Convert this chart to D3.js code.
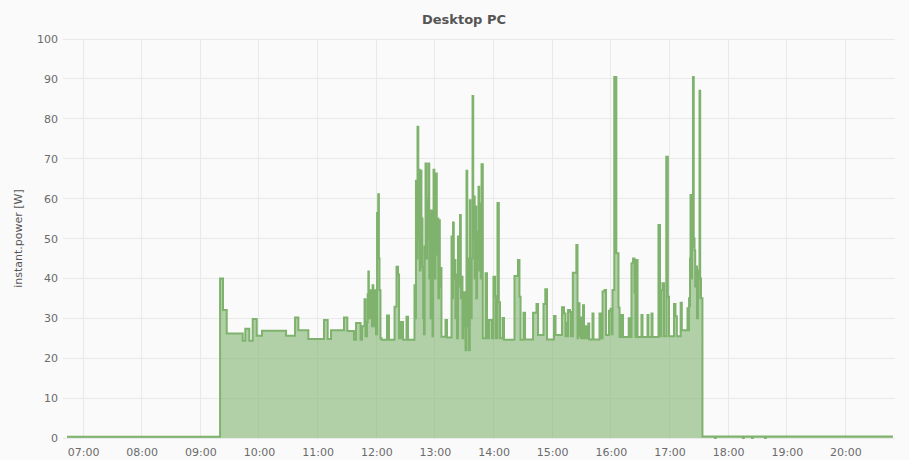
<!DOCTYPE html>
<html><head><meta charset="utf-8">
<script src="https://cdn.jsdelivr.net/npm/d3@7"></script>
<style>
body{margin:0;background:#fafafa;}
svg{display:block;font-family:"DejaVu Sans",sans-serif;}
</style>
</head><body>
<svg id="chart" width="909" height="460"></svg>
<script>
const title = "Desktop PC";
const yLabel = "instant.power [W]";
// minutes since midnight (step start) and instant power [W]
const times = [
403.6,560.2,563.2,567.0,583.4,586.0,590.1,593.6,597.7,603.1,
627.7,636.9,640.3,650.5,666.5,670.3,673.7,687.0,690.4,697.2,
699.3,703.9,705.4,708.0,709.0,710.5,711.2,711.9,712.4,712.9,
713.6,714.3,715.1,715.6,716.2,717.0,717.7,718.2,718.7,719.7,
720.8,722.0,722.7,723.3,724.3,725.4,731.0,733.0,738.7,740.7,
742.2,743.3,745.3,747.4,750.9,752.5,759.1,760.0,760.6,761.3,
762.2,763.0,763.7,764.5,765.3,766.2,767.3,768.0,768.8,769.5,
770.4,771.2,771.9,772.6,773.4,774.2,775.0,775.6,776.0,776.8,
777.5,778.0,778.6,779.4,780.1,780.6,781.1,781.9,782.7,783.5,
784.2,785.0,785.7,786.7,790.8,792.4,797.0,797.7,798.5,799.3,
800.1,801.0,801.6,802.6,803.6,804.5,805.7,806.5,807.2,808.2,
809.0,809.8,810.5,811.3,812.3,813.1,813.9,814.9,815.7,816.3,
816.9,817.6,818.5,819.2,820.0,820.7,821.5,822.3,823.1,823.8,
824.6,825.3,826.1,826.9,827.7,829.0,831.8,833.3,835.3,838.4,
839.9,841.5,842.5,844.0,845.4,846.6,849.2,850.7,861.4,865.0,
866.5,867.6,870.6,872.2,880.4,883.9,885.5,891.1,892.9,894.7,
901.8,903.4,910.0,912.1,913.6,914.6,915.6,916.2,918.2,919.2,
921.1,924.7,925.9,926.4,927.9,928.4,929.5,931.5,932.5,934.6,
935.6,936.9,937.9,941.2,942.2,948.4,950.4,951.5,953.5,955.0,
958.1,959.8,960.7,961.7,963.5,965.6,967.8,968.9,970.9,972.4,
978.3,979.6,981.1,982.7,984.2,985.2,986.0,987.3,991.3,992.4,
997.5,998.5,1001.6,1002.6,1008.7,1010.3,1011.6,1012.8,1014.4,1016.7,
1018.3,1019.5,1024.6,1026.1,1027.5,1031.4,1032.6,1038.4,1039.4,1040.0,
1040.4,1041.0,1041.5,1042.2,1043.0,1043.5,1044.0,1044.8,1045.6,1046.3,
1047.1,1048.1,1049.1,1049.8,1050.7,1051.4,1052.2,1053.7,1066.5,1067.3,
1095.2,1096.0,1104.4,1105.2,1117.7,1118.5,1248.6];
const power = [
0.3,40.0,32.1,26.2,24.4,27.4,24.4,29.8,25.6,26.9,
25.6,30.2,27.0,24.8,29.6,24.8,27.0,30.2,26.8,24.6,
28.8,24.6,28.0,34.8,25.5,29.0,36.0,41.7,30.0,33.0,
37.0,30.0,36.0,28.0,38.3,32.0,35.0,28.0,37.0,26.0,
56.4,61.1,45.0,37.0,25.0,24.6,30.7,24.6,32.9,42.9,
41.0,25.0,29.1,24.6,30.4,24.6,38.3,30.0,64.5,45.0,
78.0,50.0,67.2,42.0,67.0,55.0,43.0,30.0,26.0,48.0,
68.8,45.0,60.0,50.0,68.8,40.0,50.0,30.0,57.0,35.0,
25.5,45.0,67.2,42.0,40.0,55.0,66.3,46.0,55.0,35.0,
54.6,38.0,42.6,25.4,29.6,25.2,50.5,35.0,54.0,40.0,
44.6,30.0,41.0,25.0,50.5,38.0,55.9,35.0,40.4,25.0,
30.0,36.5,28.0,22.0,67.0,45.0,28.0,22.0,59.6,40.0,
30.0,45.0,85.7,50.0,60.5,40.0,58.0,35.0,51.7,45.0,
63.0,42.0,58.8,40.0,68.6,25.0,41.3,25.0,29.6,25.0,
40.4,35.5,25.0,58.9,34.0,25.0,30.1,24.6,40.6,44.6,
35.4,24.6,31.4,24.7,31.4,33.6,25.8,33.6,37.3,24.7,
30.6,25.8,32.8,31.2,25.5,28.9,25.5,32.1,31.6,25.5,
41.4,48.4,25.0,33.8,25.5,30.2,25.0,33.3,25.0,28.0,
25.0,28.7,24.7,31.2,24.7,31.2,25.0,36.7,37.1,25.8,
31.9,32.4,26.0,37.1,90.5,46.3,32.7,25.3,30.8,25.3,
30.0,25.3,43.8,45.0,36.4,25.3,44.6,25.3,30.8,25.3,
30.8,25.3,31.2,25.3,53.4,25.5,37.0,38.8,25.5,70.5,
35.4,25.5,33.6,30.5,25.5,33.9,27.0,32.5,27.0,35.0,
33.0,45.0,60.9,40.0,48.0,58.0,90.5,50.0,47.0,38.0,
43.0,30.0,35.0,42.0,87.0,40.0,35.0,0.4,0.0,0.4,
0.0,0.4,0.0,0.4,0.0,0.4,0.4];
const yTicks = [0,10,20,30,40,50,60,70,80,90,100];
const xDomainMinutes = [399.5, 1250.7];

const toDate = m => new Date(2021, 0, 1, 0, 0, 0, Math.round(m * 60000));
const data = times.map((t, i) => ({t: toDate(t), v: power[i]}));

const svg = d3.select("#chart");
const W = 909, H = 460;
const m = {left: 63, right: W - 895, top: 39, bottom: H - 438};

svg.append("rect").attr("width", W).attr("height", H).attr("fill", "#fafafa");

const x = d3.scaleTime().domain(xDomainMinutes.map(toDate)).range([m.left, W - m.right]);
const y = d3.scaleLinear().domain([0, 100]).range([H - m.bottom, m.top]);

// grid
const hourTicks = x.ticks(d3.timeHour.every(1));
svg.append("g").selectAll("line").data(yTicks).join("line")
  .attr("x1", m.left).attr("x2", W - m.right)
  .attr("y1", d => y(d)).attr("y2", d => y(d))
  .attr("stroke", "#e9e9e9").attr("stroke-width", 1).attr("shape-rendering", "crispEdges");
svg.append("g").selectAll("line").data(hourTicks).join("line")
  .attr("x1", d => x(d)).attr("x2", d => x(d))
  .attr("y1", m.top).attr("y2", H - m.bottom)
  .attr("stroke", "#e9e9e9").attr("stroke-width", 1).attr("shape-rendering", "crispEdges");

// area + line
const area = d3.area().curve(d3.curveStepAfter)
  .x(d => x(d.t)).y0(y(0)).y1(d => y(d.v));
const line = d3.line().curve(d3.curveStepAfter)
  .x(d => x(d.t)).y(d => y(d.v));

svg.append("path").datum(data).attr("d", area)
  .attr("fill", "#7eb26d").attr("fill-opacity", 0.58);
svg.append("path").datum(data).attr("d", line)
  .attr("fill", "none").attr("stroke", "#7eb26d").attr("stroke-width", 2)
  .attr("stroke-linejoin", "miter");

// axes (labels only)
const xAxis = d3.axisBottom(x).ticks(d3.timeHour.every(1)).tickFormat(d3.timeFormat("%H:%M")).tickSize(0).tickPadding(10);
const gx = svg.append("g").attr("transform", `translate(0,${H - m.bottom})`).call(xAxis);
gx.select(".domain").remove();
gx.selectAll("text").attr("fill", "#6b6b6b").style("font-size", "11px").style("font-family", "DejaVu Sans");

const yAxis = d3.axisLeft(y).tickValues(yTicks).tickSize(0).tickPadding(5);
const gy = svg.append("g").attr("transform", `translate(${m.left},0)`).call(yAxis);
gy.select(".domain").remove();
gy.selectAll("text").attr("fill", "#6b6b6b").style("font-size", "11px").style("font-family", "DejaVu Sans");

// title
svg.append("text").attr("x", 464).attr("y", 24).attr("text-anchor", "middle")
  .attr("fill", "#555").style("font-size", "13px").style("font-weight", "bold").text(title);

// y label
svg.append("text").attr("transform", `translate(22,${(m.top + H - m.bottom) / 2}) rotate(-90)`)
  .attr("text-anchor", "middle").attr("fill", "#555").style("font-size", "11px").text(yLabel);
</script>
</body></html>
